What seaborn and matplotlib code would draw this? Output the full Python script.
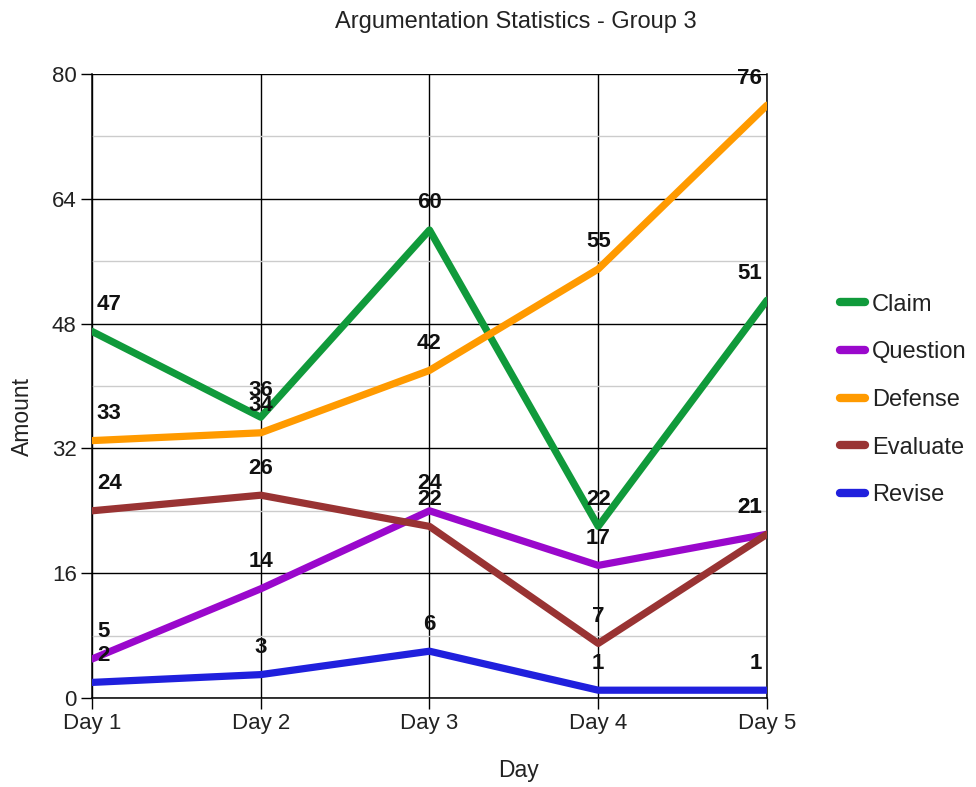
import matplotlib
matplotlib.use("Agg")
import matplotlib.pyplot as plt
import seaborn as sns
import pandas as pd
from matplotlib.ticker import MultipleLocator

days = ["Day 1", "Day 2", "Day 3", "Day 4", "Day 5"]
series_names = ["Claim", "Question", "Defense", "Evaluate", "Revise"]
claim = [47, 36, 60, 22, 51]
question = [5, 14, 24, 17, 21]
defense = [33, 34, 42, 55, 76]
evaluate = [24, 26, 22, 7, 21]
revise = [2, 3, 6, 1, 1]
colors = ["#109a3b", "#9a08cc", "#ff9a00", "#993333", "#2020dd"]

values = [claim, question, defense, evaluate, revise]
df = pd.DataFrame(
    [(d, name, v) for name, vals in zip(series_names, values) for d, v in zip(days, vals)],
    columns=["Day", "Series", "Amount"],
)
df["x"] = df["Day"].map({d: i for i, d in enumerate(days)})

sns.set_style("white")
plt.rcParams["font.family"] = ["Liberation Sans", "DejaVu Sans"]

W, H = 976, 787
fig = plt.figure(figsize=(W / 100, H / 100), dpi=100)
ax = fig.add_axes([92 / W, 89 / H, 675 / W, 624 / H])

sns.lineplot(data=df, x="x", y="Amount", hue="Series", hue_order=series_names,
             palette=colors, linewidth=5.2, ax=ax, legend=True, sort=False,
             solid_capstyle="round", solid_joinstyle="round", zorder=3)

ax.set_xlim(0, len(days) - 1)
ax.set_ylim(0, 80)
ax.set_xticks(range(len(days)))
ax.set_xticklabels(days)
ax.yaxis.set_major_locator(MultipleLocator(16))
ax.yaxis.set_minor_locator(MultipleLocator(8))
ax.grid(which="major", axis="both", color="black", linewidth=1.0, zorder=0)
ax.grid(which="minor", axis="y", color="#cccccc", linewidth=1.0, zorder=0)
ax.set_axisbelow(True)
ax.spines["top"].set_visible(False)
for side in ["left", "bottom", "right"]:
    ax.spines[side].set_color("black")
    ax.spines[side].set_linewidth(1.1)
ax.tick_params(axis="both", which="major", length=8, width=1.0, color="black",
               labelsize=16, labelcolor="#222222", pad=3, left=True, bottom=True)
ax.tick_params(axis="y", which="minor", length=0)
ax.set_xlabel("")
ax.set_ylabel("")

# titles placed over the whole chart area
fig.text(516 / W, 1 - 22 / H, "Argumentation Statistics - Group 3",
         ha="center", va="center", fontsize=17, color="#222222")
fig.text(518 / W, 1 - 771 / H, "Day", ha="center", va="center",
         fontsize=16.5, color="#222222")
fig.text(22 / W, 1 - 416 / H, "Amount", ha="center", va="center",
         rotation=90, fontsize=16.5, color="#222222")

# value labels above each point
for name, vals in zip(series_names, values):
    for i, v in enumerate(vals):
        if i == 0:
            ha, dx = "left", 3.5
        elif i == len(days) - 1:
            ha, dx = "right", -3.5
        else:
            ha, dx = "center", 0
        ax.annotate(str(v), (i, v), xytext=(dx, 12), textcoords="offset points",
                    ha=ha, va="bottom", fontsize=16, fontweight="bold",
                    color="#111111", zorder=5, annotation_clip=False)

leg = ax.legend(loc="center left", bbox_to_anchor=((840 - 92) / 675, (698 - 400) / 624),
                frameon=False, fontsize=17, handlelength=1.05, handletextpad=0.3,
                labelspacing=1.09, borderaxespad=0, borderpad=0)
for line in leg.get_lines():
    line.set_linewidth(6)
    line.set_solid_capstyle("round")
for t in leg.get_texts():
    t.set_color("#222222")

fig.savefig("out.png", dpi=100)
